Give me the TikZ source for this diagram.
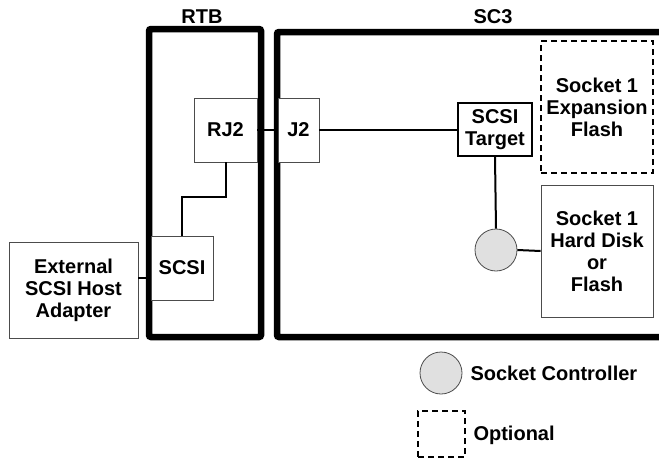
\documentclass[tikz,border=0pt]{standalone}
\usepackage{fontspec}
\setmainfont{Liberation Sans}
\usetikzlibrary{positioning}

\begin{document}
\begin{tikzpicture}[x=1pt,y=-1pt,
  every node/.style={font=\bfseries\fontsize{20}{22}\selectfont},
  frame/.style={line width=6.5pt,rounded corners=2pt},
  part/.style={draw=black!70,line width=0.8pt,fill=white,align=center,inner sep=0pt},
  opt/.style={draw,line width=1.5pt,dash pattern=on 6pt off 4pt,align=center,inner sep=0pt},
  wire/.style={line width=2pt},
  ctrl/.style={circle,draw=black!70,fill=black!12,line width=0.8pt,minimum size=42pt,inner sep=0pt}
]
  \useasboundingbox (0,0) rectangle (659,458);
  % frames
  \draw[frame] (149,29) rectangle (261,337);
  \draw[frame] (659,32) -- (277,32) -- (277,337) -- (659,337);
  \node (rtb) at (202,17) {RTB};
  \node (sc3) at (493,17) {SC3};
  % RTB parts
  \node[part,minimum width=63pt,minimum height=64pt] (rj2) at (225.5,130) {RJ2};
  \node[part,minimum width=62pt,minimum height=64pt] (scsi) at (182,268) {SCSI};
  \node[part,minimum width=129pt,minimum height=96pt] (ext) at (73.5,290) {External\\SCSI Host\\Adapter};
  % SC3 parts
  \node[part,minimum width=41pt,minimum height=64pt] (j2) at (298.5,130) {J2};
  \node[part,draw=black,line width=2pt,minimum width=74pt,minimum height=53pt] (target) at (495,129.5) {SCSI\\Target};
  \node[opt,minimum width=112pt,minimum height=132pt] (expflash) at (597,107) {Socket 1\\Expansion\\Flash};
  \node[part,minimum width=112pt,minimum height=132pt] (disk) at (597,251) {Socket 1\\Hard Disk\\or\\Flash};
  \node[ctrl] (sockctrl) at (496,250) {};
  % connections
  \coordinate (extout) at (ext.east |- 0,278);
  \draw[wire] (rj2.east) -- (j2.west);
  \draw[wire] (j2.east) -- (j2.east -| target.west);
  \draw[wire] (target.south) -- (sockctrl.north);
  \draw[wire] (sockctrl.east) -- (disk.west);
  \draw[wire] (rj2.south) -- ++(0,35) -| (scsi.north);
  \draw[wire] (extout) -- (extout -| scsi.west);
  % legend
  \node[ctrl] (keyctrl) at (441,373) {};
  \node[anchor=west] (keyctrltxt) at (467,373) {Socket Controller};
  \node[opt,minimum width=47pt,minimum height=46pt] (keyopt) at (441.5,434) {};
  \node[anchor=west] (keyopttxt) at (470,435) {Optional};
\end{tikzpicture}
\end{document}
